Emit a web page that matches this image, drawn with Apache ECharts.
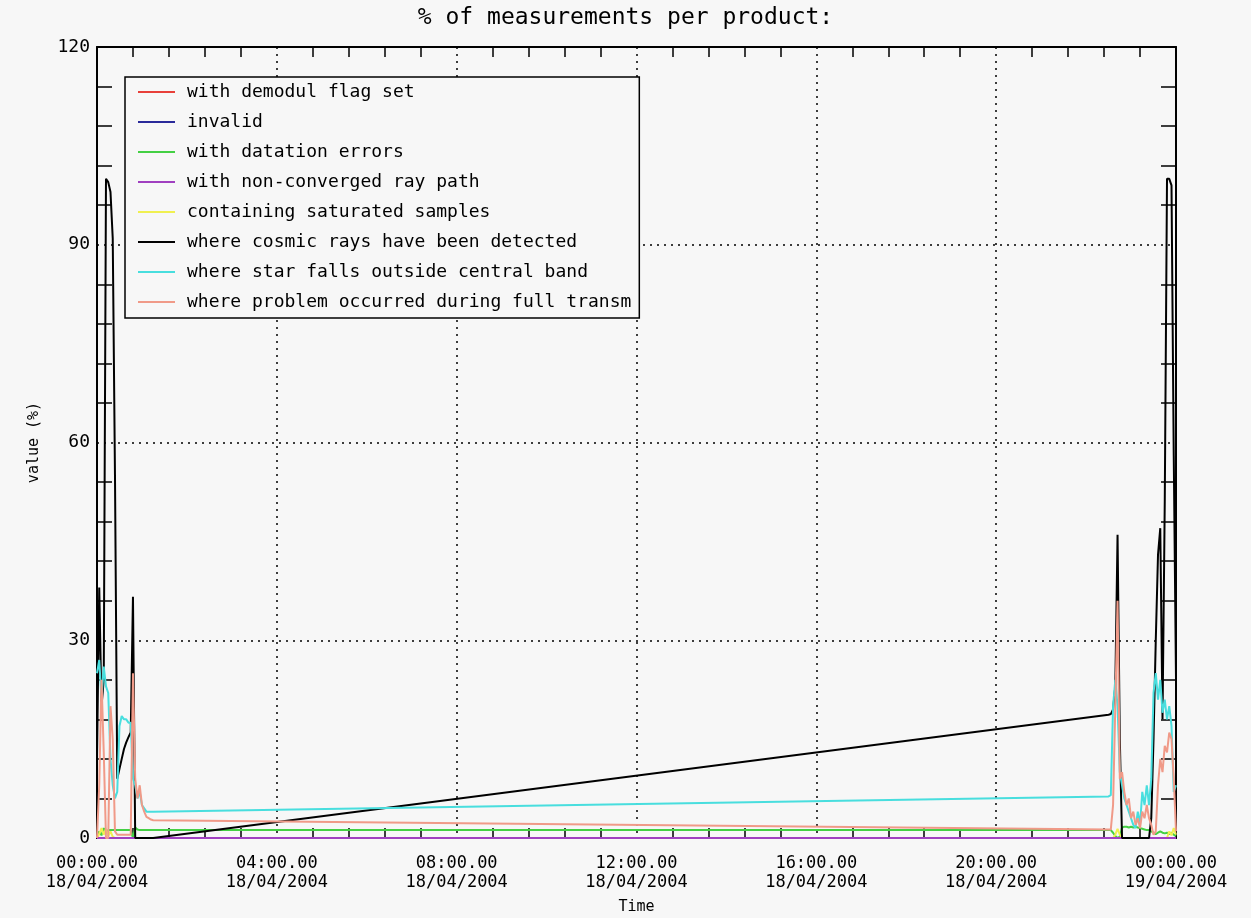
<!DOCTYPE html>
<html><head><meta charset="utf-8">
<script src="https://cdn.jsdelivr.net/npm/echarts@6/dist/echarts.min.js"></script>
<style>html,body{margin:0;padding:0;background:#f7f7f7}#c{width:1251px;height:918px}</style>
</head><body><div id="c"></div>
<script>
// time of each sample, hours since 18/04/2004 00:00
const times = [0.00,0.05,0.10,0.15,0.20,0.25,0.30,0.35,0.40,0.45,0.50,0.55,0.60,0.65,0.70,0.75,0.80,0.85,0.90,0.95,1.00,1.05,1.10,1.15,1.20,1.25,
  22.50,22.55,22.60,22.65,22.70,22.75,22.80,22.85,22.90,22.95,23.00,23.05,23.10,23.15,23.20,23.25,23.30,23.35,23.40,23.45,23.50,23.55,23.60,23.65,23.70,23.75,23.80,23.85,23.90,23.95,24.00];

const demodulFlag = [0,0,0,0,0,0,0,0,0,0,0,0,0,0,0,0,0,0,0,0,0,0,0,0,0,0,
  0,0,0,0,0,0,0,0,0,0,0,0,0,0,0,0,0,0,0,0,0,0,0,0,0,0,0,0,0,0,0];
const invalid = [0,0,0,0,0,0,0,0,0,0,0,0,0,0,0,0,0,0,0,0,0,0,0,0,0,0,
  0,0,0,0,0,0,0,0,0,0,0,0,0,0,0,0,0,0,0,0,0,0,0,0,0,0,0,0,0,0,0];
const datationErrors = [0,1.0,0.4,1.5,0.8,1.2,1.2,1.2,1.2,1.2,1.2,1.2,1.2,1.2,1.2,1.2,0,1.6,1.3,1.2,1.2,1.2,1.2,1.2,1.2,1.2,
  1.2,1.2,0.8,0.3,0,0.2,1.6,1.7,1.7,1.6,1.7,1.6,1.7,1.6,1.5,1.4,1.3,1.2,1.2,1.0,0.8,0.6,0.8,1.0,0.8,0.7,0.8,0.6,0.8,0.5,0.3];
const nonConverged = [0,0,0,0,0,0,0,0,0,0,0,0,0,0,0,0,0,0,0,0,0,0,0,0,0,0,
  0,0,0,0,0,0,0,0,0,0,0,0,0,0,0,0,0,0,0,0,0,0,0,0,0,0,0,0,0,0,0];
const saturated = [0,0.6,1.5,0.5,1.4,0.3,1.0,0.2,0,0,0,0,0,0,0,0,0,0,0,0,0,0,0,0,0,0,
  0,0,0,0.5,1.4,0.5,0,0,0,0,0,0,0,0,0,0,0,0,0,0,0,0,0,0,0,0,0,1.0,0.4,1.5,0.5];
const cosmicRays = [12,38,20,24,100,99.5,98,91,55,9,10.5,12,13.5,14.5,15.3,16,36.6,0,0,0,0,0,0,0,0,0,
  18.7,18.8,19.5,23,46,15,0,0,0,0,0,0,0,0,0,0,0,0,0,3,15,30,43,47,18,51,100,100,99,58,24];
const outsideBand = [25,27,21,26,23,22,12,8,6,7,17,18.5,18,18,17.5,17.5,9,8,6,7,5,4.5,4,4,4,4,
  6.3,6.5,20,24,20,10,8,6,5,4,3,2,1.5,4,2,7,5,8,5,9,22,25,21,24,19,21,18,20,17,7,8];
const fullTransm = [0,8,24,13,0,0,20,15,1,0.5,0.5,0.5,0.5,0.5,0.5,0.5,25,9,6,8,5,4,3.2,3,2.8,2.7,
  1.3,1.3,5,20,36,9,10,7,5,6,3,4,2,3,1.5,4,3,5,3,2,0.5,1,8,12,10,14,13,16,15,9,1];

const names = ['with demodul flag set','invalid','with datation errors','with non-converged ray path',
  'containing saturated samples','where cosmic rays have been detected','where star falls outside central band',
  'where problem occurred during full transm'];
const colors = ['#e8403a','#2a2a9a','#44d044','#a040c0','#f0f050','#000000','#48dede','#f09a88'];
const values = [demodulFlag, invalid, datationErrors, nonConverged, saturated, cosmicRays, outsideBand, fullTransm];
// drawing order (bottom to top)
const drawOrder = [0,1,2,4,3,5,6,7];

const xTickTimes = ['00:00.00','04:00.00','08:00.00','12:00.00','16:00.00','20:00.00','00:00.00'];
const xTickDates = ['18/04/2004','18/04/2004','18/04/2004','18/04/2004','18/04/2004','18/04/2004','19/04/2004'];

const FONT = 'DejaVu Sans Mono';
const chart = echarts.init(document.getElementById('c'), null, {renderer:'canvas'});

const series = drawOrder.map(i => ({
  name: names[i], type: 'line', xAxisIndex: 0, yAxisIndex: 0,
  data: times.map((t, k) => [t, values[i][k]]),
  showSymbol: false, symbol: 'none', clip: false, animation: false,
  color: colors[i],
  lineStyle: {color: colors[i], width: 2},
  emphasis: {disabled: true}
}));

const axisCommon = {
  axisLine: {show: true, onZero: false, lineStyle: {color: '#000', width: 2}},
};

chart.setOption({
  backgroundColor: '#f7f7f7',
  animation: false,
  title: {text: '% of measurements per product:', left: 'center', top: 2,
    textStyle: {fontFamily: FONT, fontSize: 23, fontWeight: 'normal', color: '#000'}},
  legend: {
    data: names, orient: 'vertical', left: 125, top: 77,
    icon: 'rect', itemWidth: 37, itemHeight: 2, itemGap: 10,
    padding: [5, 8, 6, 13],
    borderColor: '#000', borderWidth: 1.5, backgroundColor: '#f7f7f7',
    selectedMode: false,
    textStyle: {fontFamily: FONT, fontSize: 18, color: '#000', lineHeight: 20, padding: [0, 0, 0, 7]}
  },
  grid: {left: 97, right: 75, top: 47, bottom: 80, containLabel: false, outerBoundsMode: 'none'},
  xAxis: [
    Object.assign({}, axisCommon, {
      type: 'value', position: 'bottom', min: 0, max: 24, interval: 4,
      name: 'Time', nameLocation: 'middle', nameGap: 62,
      nameTextStyle: {fontFamily: FONT, fontSize: 15, color: '#000'},
      axisTick: {show: false, inside: true},
      minorTick: {show: true, splitNumber: 5, length: 10, lineStyle: {color: '#000', width: 1.5}},
      axisLabel: {fontFamily: FONT, fontSize: 17, color: '#000', margin: 16, lineHeight: 19,
        formatter: v => { const k = Math.round(v / 4); return xTickTimes[k] + '\n' + xTickDates[k]; }},
      splitLine: {show: true, lineStyle: {color: '#000', width: 1.5, type: [2, 5]}},
      minorSplitLine: {show: false}
    }),
    Object.assign({}, axisCommon, {
      type: 'value', position: 'top', min: 0, max: 24, interval: 4,
      axisTick: {show: false, inside: true},
      minorTick: {show: true, splitNumber: 5, length: 10, lineStyle: {color: '#000', width: 1.5}},
      axisLabel: {show: false}, splitLine: {show: false}
    })
  ],
  yAxis: [
    Object.assign({}, axisCommon, {
      type: 'value', position: 'left', min: 0, max: 120, interval: 30,
      name: 'value (%)', nameLocation: 'middle', nameGap: 55, nameRotate: 90,
      nameTextStyle: {fontFamily: FONT, fontSize: 15, color: '#000'},
      axisTick: {show: false, inside: true},
      minorTick: {show: true, splitNumber: 5, length: 15, lineStyle: {color: '#000', width: 1.5}},
      axisLabel: {fontFamily: FONT, fontSize: 18, color: '#000', margin: 7},
      splitLine: {show: true, lineStyle: {color: '#000', width: 1.5, type: [2, 5]}}
    }),
    Object.assign({}, axisCommon, {
      type: 'value', position: 'right', min: 0, max: 120, interval: 30,
      axisTick: {show: false, inside: true},
      minorTick: {show: true, splitNumber: 5, length: 15, lineStyle: {color: '#000', width: 1.5}},
      axisLabel: {show: false}, splitLine: {show: false}
    })
  ],
  series: series
});
</script></body></html>
